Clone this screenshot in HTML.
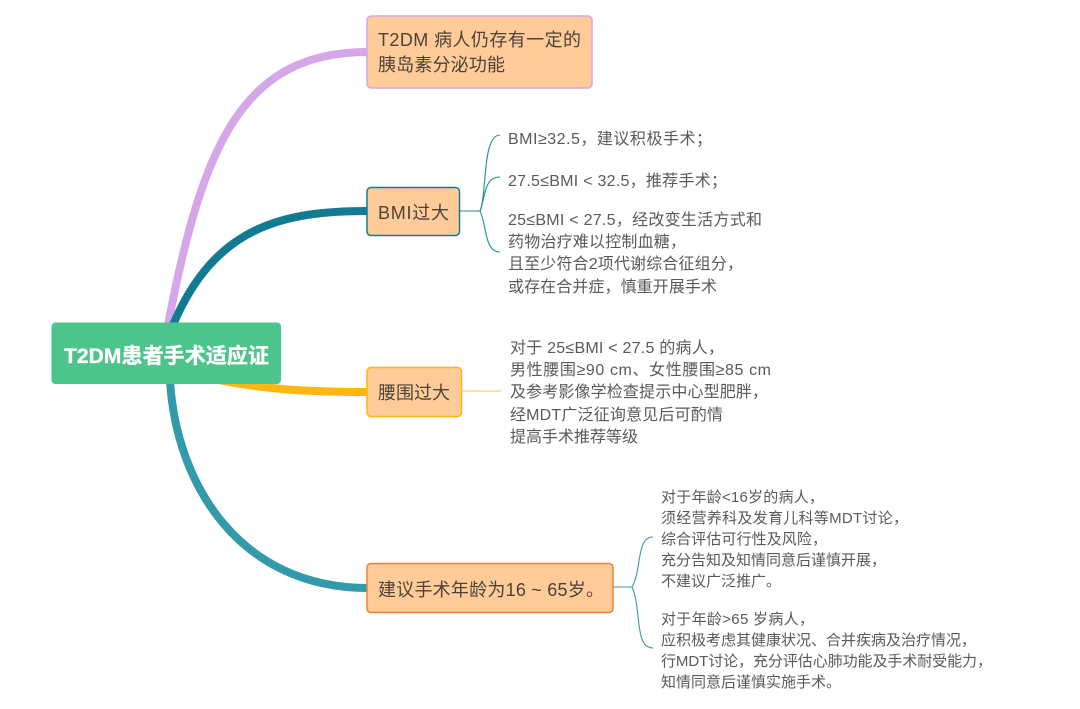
<!DOCTYPE html>
<html lang="zh">
<head>
<meta charset="utf-8">
<title>T2DM患者手术适应证</title>
<style>
html,body{margin:0;padding:0;background:#fff;width:1080px;height:709px;overflow:hidden}
svg{display:block;filter:blur(0.35px)}
text{font-family:"Liberation Sans","Noto Sans CJK SC",sans-serif;fill:#5a5a5a}
.n{font-size:18px;fill:#4c4239}
.a{font-size:16px}
.b{font-size:15px}
.r{font-size:21px;font-weight:bold;fill:#fff;stroke:#fff;stroke-width:.35px}
</style>
</head>
<body>
<svg width="1080" height="709" viewBox="0 0 1080 709" xmlns="http://www.w3.org/2000/svg">
<g fill="none" stroke-linecap="butt">
<path d="M368 52 C245 52 203 140 168 325" stroke="#d5a6e8" stroke-width="8"/>
<path d="M368 211 C285 211 215 225 173 325" stroke="#127b92" stroke-width="8"/>
<path d="M200 376 C260 390 310 392 368 392" stroke="#ffb60f" stroke-width="8"/>
<path d="M170 380 C176 485 240 588 368 588" stroke="#329aa8" stroke-width="8"/>
<g stroke="#1f8a9e" stroke-width="1.1">
<path d="M460 211 H480"/>
<path d="M480 211 C487 195 482 135 500 135"/>
<path d="M480 211 C486 195 484 177 500 177"/>
<path d="M480 211 C487 225 484 252 500 252"/>
</g>
<path d="M462 391 H501" stroke="#ffc04a" stroke-width="1.1"/>
<g stroke="#329aa8" stroke-width="1.1">
<path d="M613 587 H632"/>
<path d="M632 587 C642 570 636 537 653 537"/>
<path d="M632 587 C642 610 634 648 653 648"/>
</g>
</g>

<rect x="51.5" y="322.5" width="229.5" height="61.5" rx="4" fill="#4ec48d"/>
<rect x="367" y="16" width="225" height="72" rx="4" fill="#ffcc99" stroke="#d5a6e8" stroke-width="1.5"/>
<rect x="367" y="187.5" width="92.5" height="48" rx="4" fill="#ffcc99" stroke="#127b92" stroke-width="1.5"/>
<rect x="367" y="367.5" width="94.5" height="49" rx="4" fill="#ffcc99" stroke="#ffb60f" stroke-width="1.5"/>
<rect x="367" y="563.5" width="246" height="49" rx="4" fill="#ffcc99" stroke="#ef8233" stroke-width="1.5"/>

<text class="r" x="64" y="363" textLength="205">T2DM患者手术适应证</text>

<text class="n" x="378" y="46" textLength="203">T2DM 病人仍存有一定的</text>
<text class="n" x="378" y="71" textLength="127">胰岛素分泌功能</text>
<text class="n" x="378" y="219" textLength="71">BMI过大</text>
<text class="n" x="378" y="399" textLength="72">腰围过大</text>
<text class="n" x="378" y="596" textLength="226">建议手术年龄为16 ~ 65岁。</text>

<text class="a" x="508" y="144" textLength="204">BMI≥32.5，建议积极手术；</text>
<text class="a" x="508" y="186" textLength="219">27.5≤BMI &lt; 32.5，推荐手术；</text>
<text class="a" x="508" y="225" textLength="254">25≤BMI &lt; 27.5，经改变生活方式和</text>
<text class="a" x="508" y="247" textLength="178">药物治疗难以控制血糖，</text>
<text class="a" x="508" y="269" textLength="235">且至少符合2项代谢综合征组分，</text>
<text class="a" x="508" y="292" textLength="209">或存在合并症，慎重开展手术</text>

<text class="a" x="510" y="353" textLength="214">对于 25≤BMI &lt; 27.5 的病人，</text>
<text class="a" x="510" y="375" textLength="261">男性腰围≥90 cm、女性腰围≥85 cm</text>
<text class="a" x="510" y="397" textLength="258">及参考影像学检查提示中心型肥胖，</text>
<text class="a" x="510" y="420" textLength="213">经MDT广泛征询意见后可酌情</text>
<text class="a" x="510" y="442" textLength="128">提高手术推荐等级</text>

<text class="b" x="661" y="502" textLength="163">对于年龄&lt;16岁的病人，</text>
<text class="b" x="661" y="523" textLength="247">须经营养科及发育儿科等MDT讨论，</text>
<text class="b" x="661" y="544" textLength="166">综合评估可行性及风险，</text>
<text class="b" x="661" y="565" textLength="225">充分告知及知情同意后谨慎开展，</text>
<text class="b" x="661" y="586" textLength="120">不建议广泛推广。</text>
<text class="b" x="661" y="624" textLength="153">对于年龄&gt;65 岁病人，</text>
<text class="b" x="661" y="645" textLength="315">应积极考虑其健康状况、合并疾病及治疗情况，</text>
<text class="b" x="661" y="666" textLength="331">行MDT讨论，充分评估心肺功能及手术耐受能力，</text>
<text class="b" x="661" y="687" textLength="180">知情同意后谨慎实施手术。</text>
</svg>
</body>
</html>
